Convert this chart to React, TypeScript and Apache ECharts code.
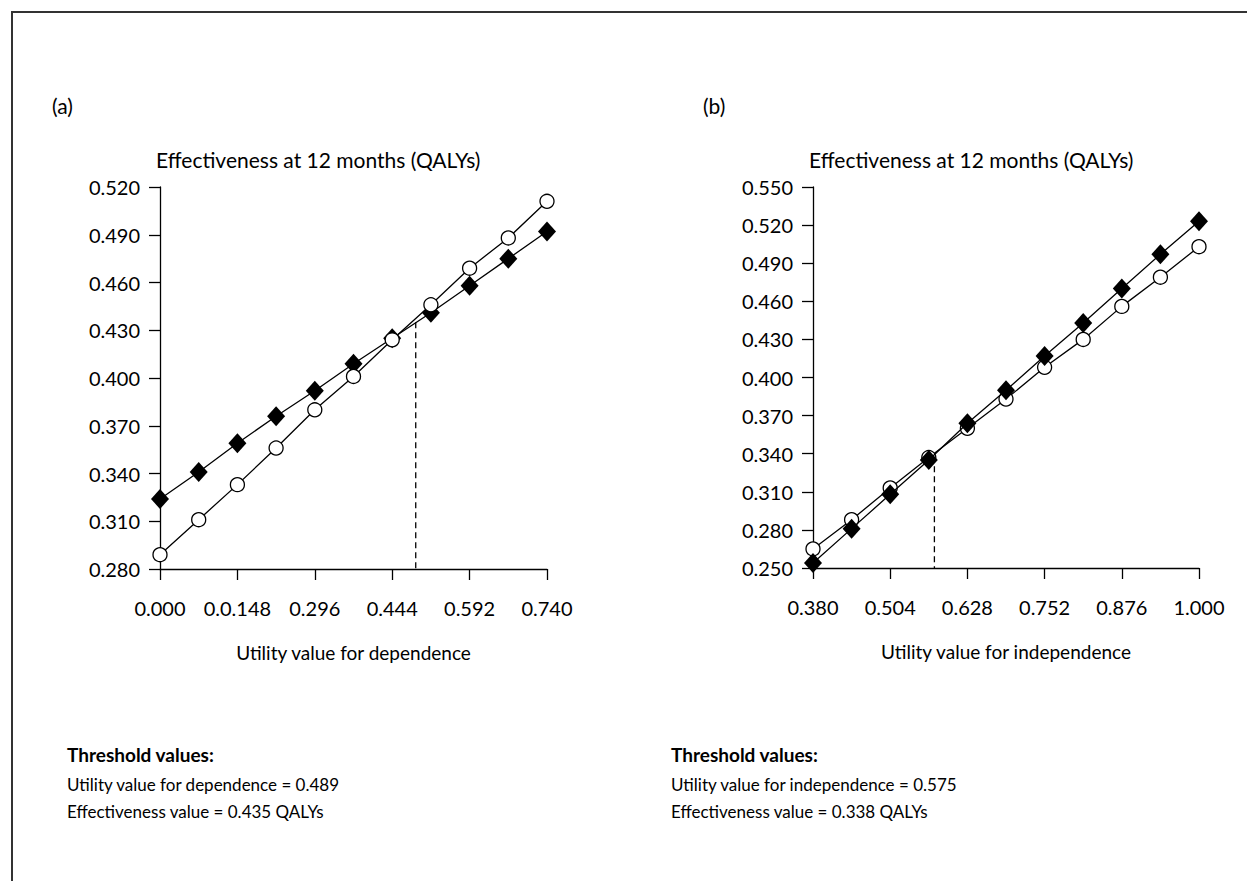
import React, { useEffect, useRef } from "react";
import * as echarts from "echarts";

// Panel (a): utility value for dependence
const xValuesA = [0, 0.074, 0.148, 0.222, 0.296, 0.37, 0.444, 0.518, 0.592, 0.666, 0.74];
const diamondsA = [0.324, 0.341, 0.359, 0.376, 0.392, 0.409, 0.425, 0.441, 0.458, 0.475, 0.492];
const circlesA = [0.289, 0.311, 0.333, 0.356, 0.380, 0.401, 0.424, 0.446, 0.469, 0.488, 0.511];
const xTicksA = [0, 0.148, 0.296, 0.444, 0.592, 0.74];
const xTickLabelsA = ["0.000", "0.0.148", "0.296", "0.444", "0.592", "0.740"];
const yTicksA = [0.28, 0.31, 0.34, 0.37, 0.4, 0.43, 0.46, 0.49, 0.52];
const thresholdA = { x: 0.489, y: 0.435 };

// Panel (b): utility value for independence
const xValuesB = [0.38, 0.442, 0.504, 0.566, 0.628, 0.69, 0.752, 0.814, 0.876, 0.938, 1.0];
const diamondsB = [0.254, 0.281, 0.308, 0.335, 0.364, 0.390, 0.417, 0.443, 0.470, 0.497, 0.523];
const circlesB = [0.265, 0.288, 0.313, 0.337, 0.360, 0.383, 0.408, 0.430, 0.456, 0.479, 0.503];
const xTicksB = [0.38, 0.504, 0.628, 0.752, 0.876, 1.0];
const xTickLabelsB = ["0.380", "0.504", "0.628", "0.752", "0.876", "1.000"];
const yTicksB = [0.25, 0.28, 0.31, 0.34, 0.37, 0.4, 0.43, 0.46, 0.49, 0.52, 0.55];
const thresholdB = { x: 0.575, y: 0.338 };

const yTitle = "Effectiveness at 12 months (QALYs)";
const xTitleA = "Utility value for dependence";
const xTitleB = "Utility value for independence";

const FONT = "Lato, 'Open Sans', sans-serif";

const labelFor = (ticks: number[], labels: string[]) => (v: number) => {
  const i = ticks.findIndex((t) => Math.abs(t - v) < 1e-6);
  return i >= 0 ? labels[i] : "";
};

function xAxis(gridIndex: number, ticks: number[], labels: string[], name: string) {
  return {
    type: "value",
    gridIndex,
    min: ticks[0],
    max: ticks[ticks.length - 1],
    name,
    nameLocation: "middle",
    nameGap: 74,
    nameTextStyle: { color: "#000", fontSize: 19, fontFamily: FONT },
    axisLine: { onZero: false, lineStyle: { color: "#000", width: 1.3 } },
    axisTick: { length: 11, customValues: ticks, lineStyle: { color: "#000", width: 1.3 } },
    axisLabel: {
      customValues: ticks,
      formatter: labelFor(ticks, labels),
      color: "#000",
      fontSize: 20,
      fontFamily: FONT,
      margin: 29,
    },
    splitLine: { show: false },
  };
}

function yAxis(gridIndex: number, ticks: number[]) {
  return {
    type: "value",
    gridIndex,
    min: ticks[0],
    max: ticks[ticks.length - 1],
    name: yTitle,
    nameLocation: "end",
    nameGap: 17,
    nameTextStyle: { color: "#000", fontSize: 21, fontFamily: FONT, align: "left", padding: [0, 0, 0, -4] },
    axisLine: { onZero: false, lineStyle: { color: "#000", width: 1.3 } },
    axisTick: { length: 11, customValues: ticks, lineStyle: { color: "#000", width: 1.3 } },
    axisLabel: {
      customValues: ticks,
      formatter: (v: number) => v.toFixed(3),
      color: "#000",
      fontSize: 20,
      fontFamily: FONT,
      margin: 20,
    },
    splitLine: { show: false },
  };
}

function lineSeries(idx: number, xs: number[], ys: number[], kind: "diamond" | "circle", z: number) {
  const base = {
    type: "line",
    xAxisIndex: idx,
    yAxisIndex: idx,
    data: xs.map((x, i) => [x, ys[i]]),
    lineStyle: { color: "#000", width: 1.3 },
    z,
  };
  if (kind === "diamond") {
    return { ...base, symbol: "diamond", symbolSize: [18, 20], itemStyle: { color: "#000" } };
  }
  return {
    ...base,
    symbol: "circle",
    symbolSize: 14,
    itemStyle: { color: "#fff", borderColor: "#000", borderWidth: 1.3 },
  };
}

function dashedSeries(idx: number, t: { x: number; y: number }, yMin: number) {
  return {
    type: "line",
    xAxisIndex: idx,
    yAxisIndex: idx,
    data: [
      [t.x, t.y],
      [t.x, yMin],
    ],
    symbol: "none",
    lineStyle: { color: "#000", width: 1.3, type: [6, 4] },
    z: 1,
  };
}

function textEl(x: number, y: number, text: string, size: number, bold = false) {
  return {
    type: "text",
    x,
    y,
    style: {
      text,
      fill: "#000",
      font: `${bold ? "bold " : ""}${size}px ${FONT}`,
      textVerticalAlign: "middle",
    },
  };
}

export default function App() {
  const ref = useRef<HTMLDivElement>(null);

  useEffect(() => {
    document.body.style.margin = "0";
    const chart = echarts.init(ref.current!, null, { renderer: "svg" });
    chart.setOption({
      animation: false,
      backgroundColor: "#fff",
      grid: [
        { left: 160, top: 187, width: 387, height: 382 },
        { left: 813, top: 187, width: 386, height: 381 },
      ],
      xAxis: [xAxis(0, xTicksA, xTickLabelsA, xTitleA), xAxis(1, xTicksB, xTickLabelsB, xTitleB)],
      yAxis: [yAxis(0, yTicksA), yAxis(1, yTicksB)],
      series: [
        dashedSeries(0, thresholdA, yTicksA[0]),
        lineSeries(0, xValuesA, diamondsA, "diamond", 2),
        lineSeries(0, xValuesA, circlesA, "circle", 3),
        dashedSeries(1, thresholdB, yTicksB[0]),
        lineSeries(1, xValuesB, circlesB, "circle", 2),
        lineSeries(1, xValuesB, diamondsB, "diamond", 3),
      ],
      graphic: [
        { type: "line", shape: { x1: 11, y1: 12, x2: 1247, y2: 12 }, style: { stroke: "#333", lineWidth: 2 } },
        { type: "line", shape: { x1: 12, y1: 12, x2: 12, y2: 881 }, style: { stroke: "#333", lineWidth: 2 } },
        textEl(52, 105, "(a)", 21),
        textEl(703, 105, "(b)", 21),
        textEl(67, 754, "Threshold values:", 19, true),
        textEl(67, 784, `Utility value for dependence = ${thresholdA.x.toFixed(3)}`, 17),
        textEl(67, 811, `Effectiveness value = ${thresholdA.y.toFixed(3)} QALYs`, 17),
        textEl(671, 754, "Threshold values:", 19, true),
        textEl(671, 784, `Utility value for independence = ${thresholdB.x.toFixed(3)}`, 17),
        textEl(671, 811, `Effectiveness value = ${thresholdB.y.toFixed(3)} QALYs`, 17),
      ],
    });
    return () => chart.dispose();
  }, []);

  return (
    <div
      ref={ref}
      style={{ position: "absolute", left: 0, top: 0, width: 1247, height: 881, background: "#fff" }}
    />
  );
}
